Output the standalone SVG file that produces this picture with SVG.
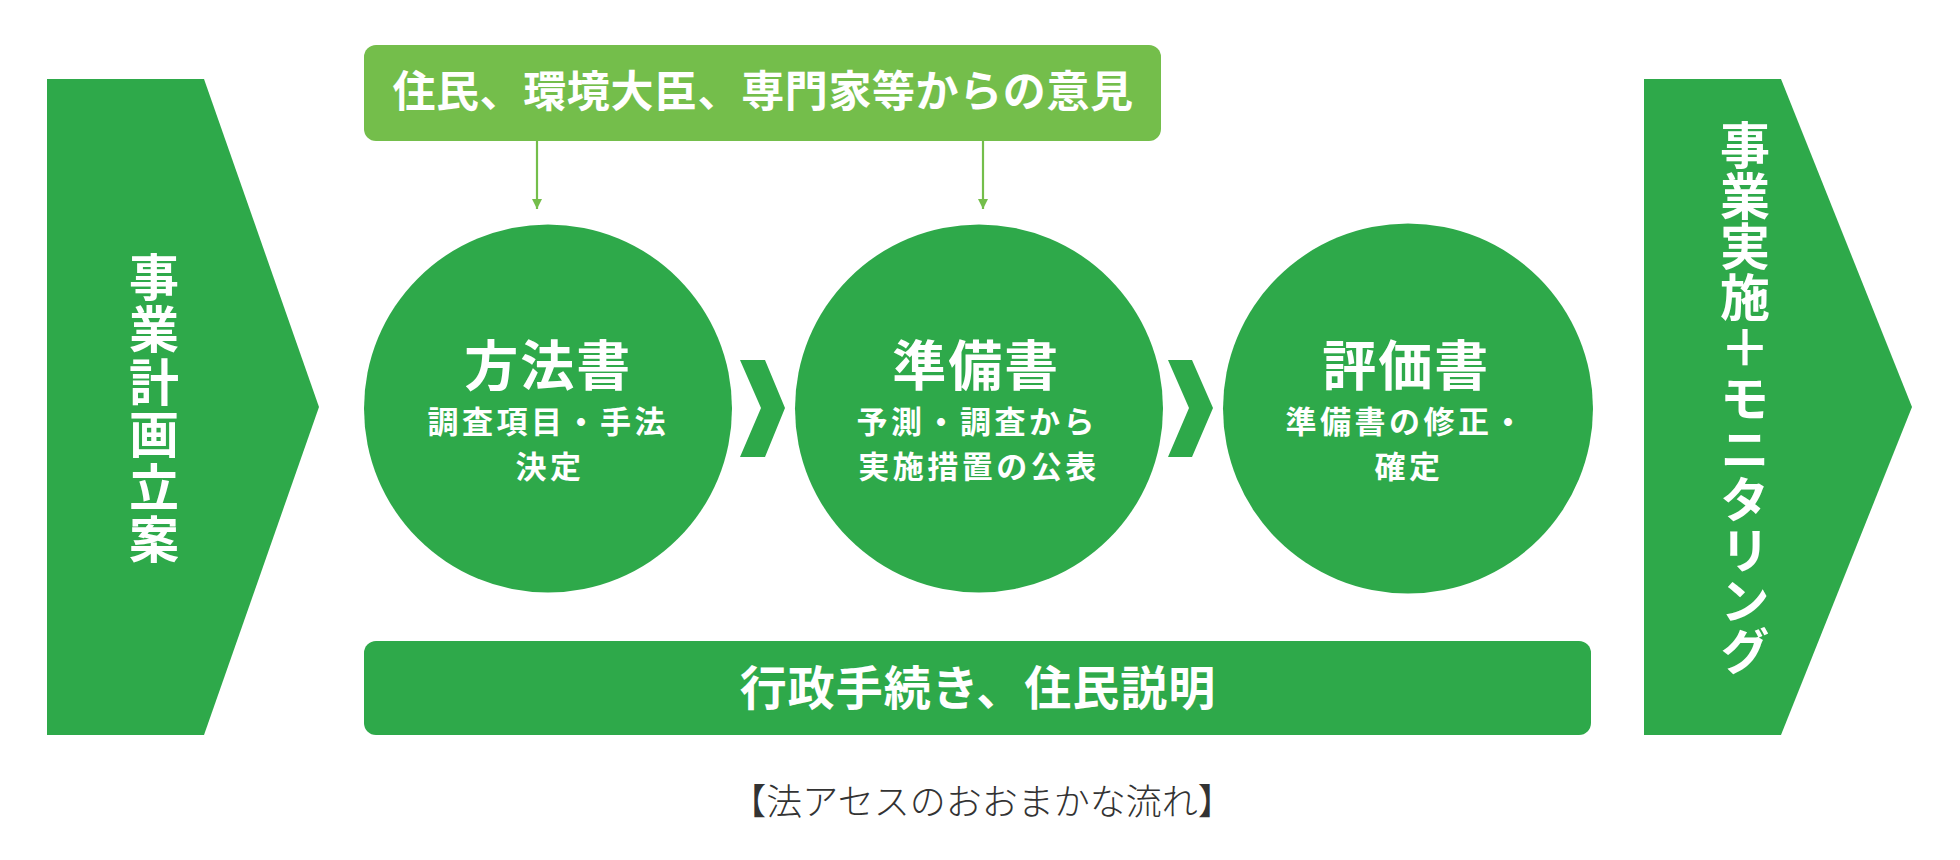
<svg xmlns="http://www.w3.org/2000/svg" width="1960" height="860" viewBox="0 0 1960 860">
  <style>
    .dark { fill: #2EA94A; }
    .light { fill: #74BE4B; }
    .w { fill: #ffffff; font-family: "Noto Sans CJK JP", "Noto Sans CJK SC", sans-serif; font-weight: 700; text-anchor: middle; }
    .title { font-size: 54px; letter-spacing: 2px; }
    .sub { font-size: 31px; letter-spacing: 3.5px; }
    .vert { font-size: 50px; writing-mode: vertical-rl; text-anchor: start; }
    .cap { fill: #333333; font-family: "Noto Sans CJK JP", "Noto Sans CJK SC", sans-serif; font-weight: 300; font-size: 36px; text-anchor: middle; }
    .conn { stroke: #74BE4B; stroke-width: 2.2; fill: none; }
  </style>
  <defs>
    <marker id="ah" viewBox="0 0 10 10" refX="10" refY="5" markerWidth="10" markerHeight="10" markerUnits="userSpaceOnUse" orient="auto">
      <path d="M0,0 L10,5 L0,10 Z" fill="#74BE4B"/>
    </marker>
  </defs>
  <rect width="1960" height="860" fill="#ffffff"/>

  <g id="node-plan">
    <polygon class="dark" points="47,79 204,79 319,407 204,735 47,735"/>
    <text class="w vert" x="154" y="252" letter-spacing="2.4">事業計画立案</text>
  </g>

  <g id="node-opinions">
    <rect class="light" x="364" y="45" width="797" height="96" rx="12"/>
    <text class="w" x="763" y="107" font-size="43" letter-spacing="0.6">住民、環境大臣、専門家等からの意見</text>
  </g>

  <g id="node-houhousho">
    <circle class="dark" cx="548" cy="408.5" r="184"/>
    <text class="w">
      <tspan class="title" x="550" y="386">方法書</tspan>
      <tspan class="sub" x="550" y="433">調査項目・手法</tspan>
      <tspan class="sub" x="550" y="478">決定</tspan>
    </text>
  </g>

  <g id="node-junbisho">
    <circle class="dark" cx="979" cy="408.5" r="184"/>
    <text class="w">
      <tspan class="title" x="978" y="386">準備書</tspan>
      <tspan class="sub" x="979" y="433">予測・調査から</tspan>
      <tspan class="sub" x="979" y="478">実施措置の公表</tspan>
    </text>
  </g>

  <g id="node-hyoukasho">
    <circle class="dark" cx="1408" cy="408.5" r="185"/>
    <text class="w">
      <tspan class="title" x="1408" y="386">評価書</tspan>
      <tspan class="sub" x="1408" y="433">準備書の修正・</tspan>
      <tspan class="sub" x="1409" y="478">確定</tspan>
    </text>
  </g>

  <g id="node-procedures">
    <rect class="dark" x="364" y="641" width="1227" height="94" rx="12"/>
    <text class="w" x="978" y="705" font-size="47" letter-spacing="1">行政手続き、住民説明</text>
  </g>

  <g id="node-implementation">
    <polygon class="dark" points="1644,79 1781,79 1912,407 1781,735 1644,735"/>
    <text class="w vert" x="1745" y="120" letter-spacing="0.6">事業実施＋モニタリング</text>
  </g>

  <g id="connectors">
    <line class="conn" x1="537" y1="141" x2="537" y2="209" marker-end="url(#ah)"/>
    <line class="conn" x1="983" y1="141" x2="983" y2="209" marker-end="url(#ah)"/>
    <polygon class="dark" points="740,360 765,360 785,408 765,457 740,457 761,408"/>
    <polygon class="dark" points="1168,360 1192,360 1213,408 1192,457 1168,457 1189,408"/>
  </g>

  <text class="cap" x="982" y="815">【法アセスのおおまかな流れ】</text>
</svg>
